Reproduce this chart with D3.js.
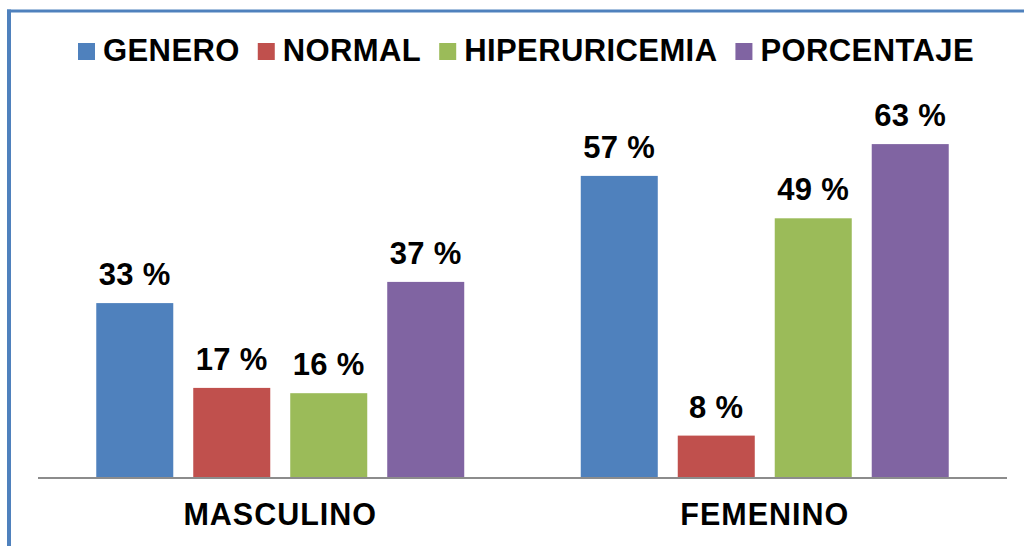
<!DOCTYPE html>
<html>
<head>
<meta charset="utf-8">
<script src="https://cdn.jsdelivr.net/npm/d3@7"></script>
<style>
  html, body { margin: 0; padding: 0; background: #fff; }
  svg { display: block; font-family: "Liberation Sans", Arial, sans-serif; }
</style>
</head>
<body>
<svg id="chart" width="1024" height="546"></svg>
<script>
const categories = ["MASCULINO", "FEMENINO"];
const seriesNames = ["GENERO", "NORMAL", "HIPERURICEMIA", "PORCENTAJE"];
const genero = [33, 57];
const normal = [17, 8];
const hiperuricemia = [16, 49];
const porcentaje = [37, 63];
const seriesColors = ["#4F81BD", "#C0504D", "#9BBB59", "#8064A2"];
const yMax = 70;

const seriesValues = [genero, normal, hiperuricemia, porcentaje];
const rows = [];
categories.forEach((c, ci) => {
  seriesNames.forEach((s, si) => {
    rows.push({ category: c, series: s, value: seriesValues[si][ci] });
  });
});

const svg = d3.select("#chart");

// Border (top and left visible)
svg.append("line").attr("x1", 7).attr("x2", 1024).attr("y1", 11).attr("y2", 11)
  .attr("stroke", "#4F81BD").attr("stroke-width", 3);
svg.append("line").attr("x1", 9).attr("x2", 9).attr("y1", 9.5).attr("y2", 546)
  .attr("stroke", "#4F81BD").attr("stroke-width", 4);

const plotLeft = 38, plotRight = 1007, baseY = 478, topY = 107;

const x0 = d3.scaleBand().domain(categories).range([plotLeft, plotRight])
  .paddingInner(0.2405).paddingOuter(0.12025);
const x1 = d3.scaleBand().domain(seriesNames).range([0, x0.bandwidth()])
  .paddingInner(0.206).paddingOuter(0);
const y = d3.scaleLinear().domain([0, yMax]).range([baseY, topY]);
const color = d3.scaleOrdinal().domain(seriesNames).range(seriesColors);

// Bars
svg.append("g").selectAll("rect").data(rows).join("rect")
  .attr("x", d => x0(d.category) + x1(d.series))
  .attr("y", d => y(d.value))
  .attr("width", x1.bandwidth())
  .attr("height", d => y(0) - y(d.value))
  .attr("fill", d => color(d.series));

// Data labels
svg.append("g").selectAll("text").data(rows).join("text")
  .attr("x", d => x0(d.category) + x1(d.series) + x1.bandwidth() / 2)
  .attr("y", d => y(d.value) - 18)
  .attr("text-anchor", "middle")
  .attr("font-size", 31).attr("font-weight", "bold").attr("fill", "#000")
  .attr("letter-spacing", 0.3)
  .text(d => d.value + " %");

// X axis
const xAxis = d3.axisBottom(x0).tickSize(0).tickPadding(0);
const gx = svg.append("g").attr("transform", `translate(0,${baseY})`).call(xAxis);
gx.select(".domain").attr("stroke", "#8C8C8C").attr("stroke-width", 2)
  .attr("d", `M${plotLeft},0H${plotRight}`);
gx.selectAll(".tick text")
  .attr("y", 47).attr("dy", 0)
  .attr("font-size", 30.5).attr("font-weight", "bold").attr("fill", "#000")
  .attr("letter-spacing", 1)
  .attr("font-family", '"Liberation Sans", Arial, sans-serif');

// Legend
const legend = svg.append("g");
let lx = 78;
seriesNames.forEach((s, i) => {
  legend.append("rect").attr("x", lx).attr("y", 43).attr("width", 17).attr("height", 17)
    .attr("fill", color(s));
  const t = legend.append("text").attr("x", lx + 25).attr("y", 61)
    .attr("font-size", 31).attr("font-weight", "bold").attr("fill", "#000")
    .attr("letter-spacing", 0.4).text(s);
  const w = t.node().getComputedTextLength();
  lx = lx + 25 + w + 18;
});
</script>
</body>
</html>
